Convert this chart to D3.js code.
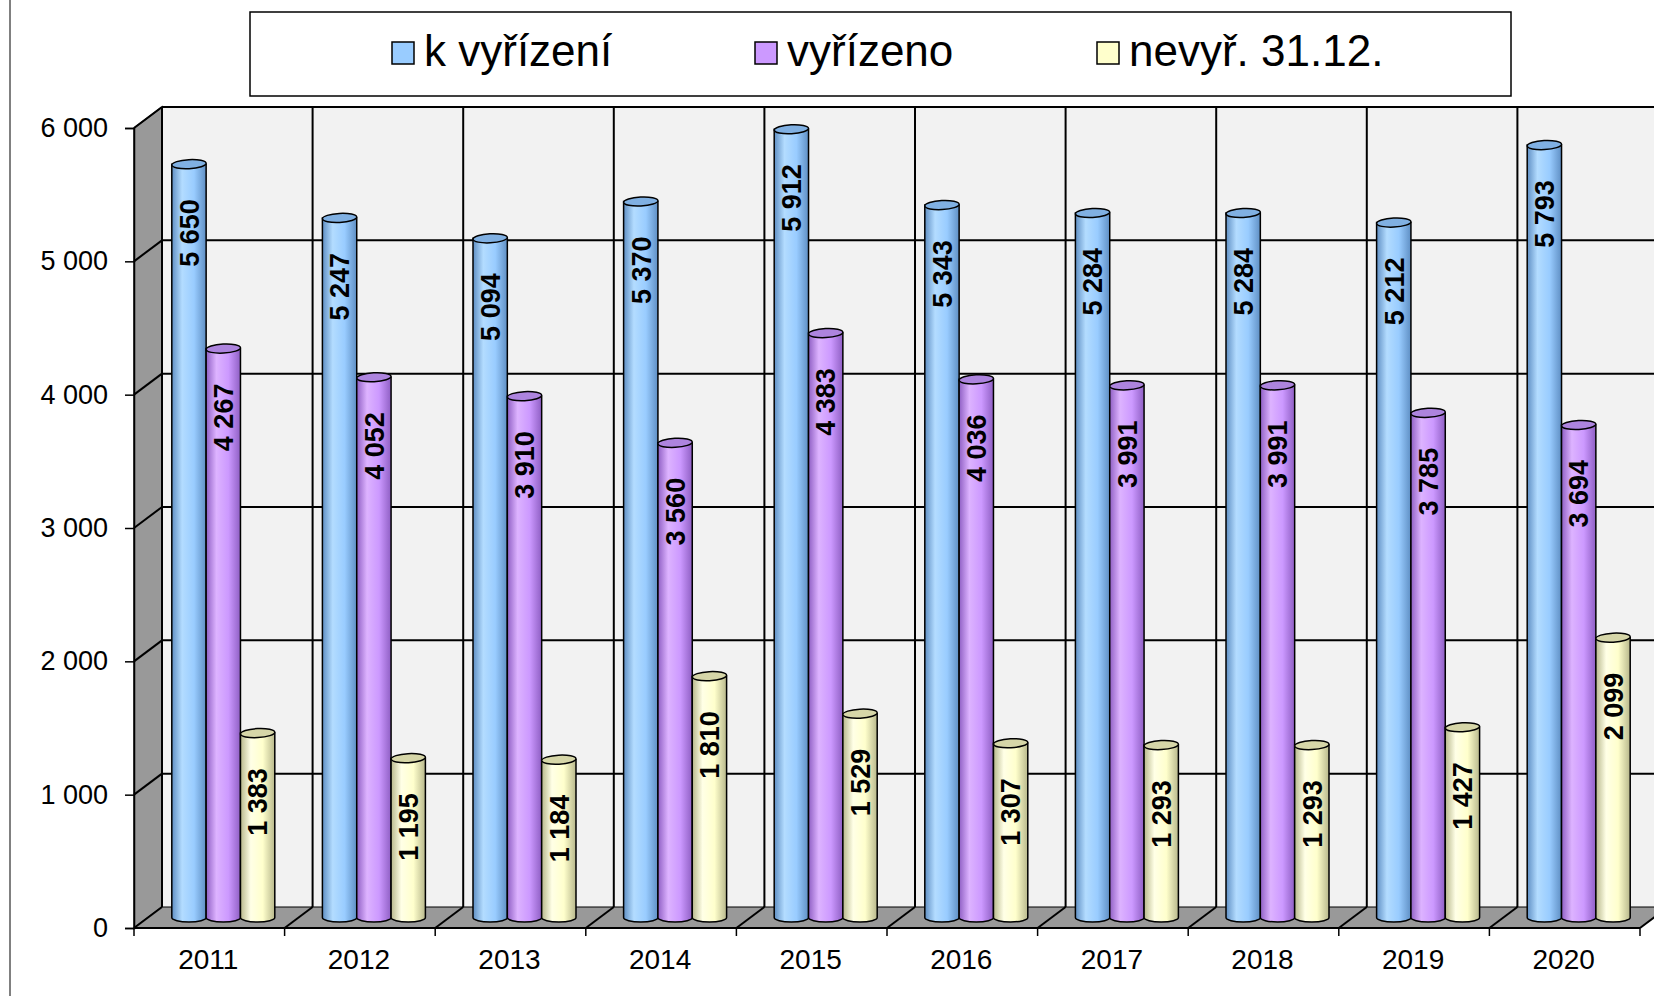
<!DOCTYPE html>
<html>
<head>
<meta charset="utf-8">
<script src="https://cdn.jsdelivr.net/npm/d3@7"></script>
<style>
body { margin: 0; background: #fff; }
text { font-family: "Liberation Sans", Arial, sans-serif; }
</style>
</head>
<body>
<script>
var years = ["2011","2012","2013","2014","2015","2016","2017","2018","2019","2020"];
var kVyrizeni = [5650,5247,5094,5370,5912,5343,5284,5284,5212,5793];
var vyrizeno = [4267,4052,3910,3560,4383,4036,3991,3991,3785,3694];
var nevyrizeno = [1383,1195,1184,1810,1529,1307,1293,1293,1427,2099];
var seriesNames = ["k vyřízení","vyřízeno","nevyř. 31.12."];
var yTicks = [0,1000,2000,3000,4000,5000,6000];

var W = 1654, H = 996;
var dx = 28, dy = -21;   // depth of the 3D box
var svg = d3.select("body").append("svg").attr("width", W).attr("height", H);
svg.append("rect").attr("width", W).attr("height", H).attr("fill", "#fff");

var x = d3.scaleBand().domain(years).range([134, 1640]);
var y = d3.scaleLinear().domain([0, 6000]).range([928, 128]);
var inner = d3.scaleBand().domain(seriesNames).range([-51.5, 51.5]);

var fmt = d3.formatLocale({decimal: ",", thousands: " ", grouping: [3], currency: ["", ""]}).format(",d");

var colors = [
  {edge: "#5f8fc4", light: "#b3dcff", mid: "#99ccff", top: "#80b0e2"},
  {edge: "#8f5fc4", light: "#ddb3ff", mid: "#cc99ff", top: "#ad84de"},
  {edge: "#b8b88c", light: "#ffffe6", mid: "#ffffcc", top: "#d6d6a8"}
];
var defs = svg.append("defs");
colors.forEach(function(c, i){
  var g = defs.append("linearGradient").attr("id", "cyl" + i).attr("x1", 0).attr("x2", 1).attr("y1", 0).attr("y2", 0);
  g.append("stop").attr("offset", "0%").attr("stop-color", c.edge);
  g.append("stop").attr("offset", "30%").attr("stop-color", c.light);
  g.append("stop").attr("offset", "65%").attr("stop-color", c.mid);
  g.append("stop").attr("offset", "100%").attr("stop-color", c.edge);
});

// outer chart border
svg.append("line").attr("x1", 10).attr("x2", 10).attr("y1", 0).attr("y2", H)
  .attr("stroke", "#808080").attr("stroke-width", 2);

var x0 = x.range()[0], x1 = x.range()[1];
var y0 = y(0), yTop = y(6000);

// back wall
svg.append("rect").attr("x", x0 + dx).attr("y", yTop + dy)
  .attr("width", W).attr("height", y0 - yTop).attr("fill", "#f2f2f2");
// side wall
svg.append("polygon")
  .attr("points", [[x0, yTop], [x0 + dx, yTop + dy], [x0 + dx, y0 + dy], [x0, y0]].join(" "))
  .attr("fill", "#999").attr("stroke", "#000").attr("stroke-width", 1.5);
// floor
svg.append("polygon")
  .attr("points", [[x0, y0], [x0 + dx, y0 + dy], [W + 40, y0 + dy], [x1 + dx, y0 + dy], [x1, y0]].join(" "))
  .attr("fill", "#999");

// horizontal gridlines on back wall and side wall
var grid = svg.append("g").attr("stroke", "#000").attr("stroke-width", 2).attr("fill", "none");
yTicks.filter(function(t){ return t > 0; }).forEach(function(t){
  grid.append("line").attr("x1", x0 + dx).attr("x2", W).attr("y1", y(t) + dy).attr("y2", y(t) + dy);
  grid.append("line").attr("x1", x0).attr("x2", x0 + dx).attr("y1", y(t)).attr("y2", y(t) + dy);
});
// vertical gridlines on back wall + floor diagonals
var bounds = years.map(function(d){ return x(d); }).concat([x1]);
bounds.forEach(function(b){
  grid.append("line").attr("x1", b + dx).attr("x2", b + dx).attr("y1", yTop + dy).attr("y2", y0 + dy);
  grid.append("line").attr("x1", b).attr("x2", b + dx).attr("y1", y0).attr("y2", y0 + dy);
});
grid.append("line").attr("x1", x0 + dx).attr("x2", W).attr("y1", y0 + dy).attr("y2", y0 + dy).attr("stroke-width", 1);

// bars (cylinders) at mid depth
var sd = [kVyrizeni, vyrizeno, nevyrizeno];
var rx = inner.bandwidth() / 2, ry = 4.5;
var bars = [];
years.forEach(function(yr, i){
  seriesNames.forEach(function(s, k){
    bars.push({year: yr, s: k, v: sd[k][i]});
  });
});
var bg = svg.append("g");
bars.forEach(function(d){
  var cx = x(d.year) + x.bandwidth() / 2 + inner(seriesNames[d.s]) + rx + dx / 2;
  var top = y(d.v) + dy / 2, bot = y(0) + dy / 2;
  var p = "M" + (cx - rx) + "," + top + " L" + (cx - rx) + "," + bot +
    " A" + rx + "," + ry + " 0 0 0 " + (cx + rx) + "," + bot +
    " L" + (cx + rx) + "," + top + " Z";
  bg.append("path").attr("d", p).attr("fill", "url(#cyl" + d.s + ")")
    .attr("stroke", "#000").attr("stroke-width", 1.5);
  bg.append("ellipse").attr("cx", cx).attr("cy", top).attr("rx", rx).attr("ry", ry)
    .attr("transform", "rotate(-3," + cx + "," + top + ")")
    .attr("fill", colors[d.s].top).attr("stroke", "#000").attr("stroke-width", 1.5);
  bg.append("text")
    .attr("transform", "translate(" + cx + "," + (top + 35) + ") rotate(-90)")
    .attr("text-anchor", "end").attr("dy", "0.36em")
    .attr("font-size", 27).attr("font-weight", "bold").attr("fill", "#000")
    .text(fmt(d.v));
});

// y axis
var yAxis = svg.append("g").attr("transform", "translate(" + x0 + ",0)")
  .call(d3.axisLeft(y).tickValues(yTicks).tickFormat(fmt).tickSize(9).tickPadding(17));
yAxis.select(".domain").attr("stroke", "#000").attr("stroke-width", 1.5);
yAxis.selectAll(".tick line").attr("stroke", "#000").attr("stroke-width", 1.5);
yAxis.selectAll("text").attr("font-size", 27).attr("fill", "#000")
  .attr("font-family", "'Liberation Sans', Arial, sans-serif");

// x axis
var xa = svg.append("g");
xa.append("line").attr("x1", x0).attr("x2", x1).attr("y1", y0).attr("y2", y0)
  .attr("stroke", "#000").attr("stroke-width", 2);
bounds.forEach(function(b){
  xa.append("line").attr("x1", b).attr("x2", b).attr("y1", y0).attr("y2", y0 + 8)
    .attr("stroke", "#000").attr("stroke-width", 1.5);
});
xa.selectAll("text.xl").data(years).enter().append("text").attr("class", "xl")
  .attr("x", function(d){ return x(d) + x.bandwidth() / 2 - 1; })
  .attr("y", 969).attr("text-anchor", "middle").attr("font-size", 28).attr("fill", "#000")
  .text(function(d){ return d; });

// legend
var lg = svg.append("g");
lg.append("rect").attr("x", 250).attr("y", 12).attr("width", 1261).attr("height", 84)
  .attr("fill", "#fff").attr("stroke", "#000").attr("stroke-width", 1.5);
var legendX = [392, 755, 1097];
seriesNames.forEach(function(s, k){
  lg.append("rect").attr("x", legendX[k]).attr("y", 42).attr("width", 22).attr("height", 22)
    .attr("fill", colors[k].mid).attr("stroke", "#000").attr("stroke-width", 1.5);
  lg.append("text").attr("x", legendX[k] + 32).attr("y", 66).attr("font-size", 44).attr("fill", "#000").text(s);
});
</script>
</body>
</html>
